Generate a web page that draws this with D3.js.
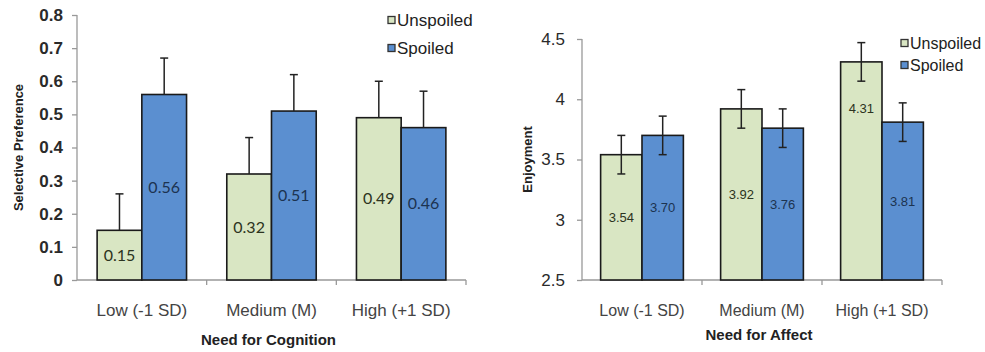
<!DOCTYPE html>
<html>
<head>
<meta charset="utf-8">
<script src="https://cdn.jsdelivr.net/npm/d3@7"></script>
<style>
  body { margin: 0; background: #fff; }
  svg { display: block; }
  text { font-family: "Liberation Sans", Arial, sans-serif; }
</style>
</head>
<body>
<svg id="chart" width="985" height="352"></svg>
<script>
// data
var groups = ['Low (-1 SD)', 'Medium (M)', 'High (+1 SD)'];
var seriesNames = ['Unspoiled', 'Spoiled'];

var cognitionUnspoiled = [0.15, 0.32, 0.49];
var cognitionSpoiled = [0.56, 0.51, 0.46];
var cognitionErrUnspoiled = [0.11, 0.11, 0.11];
var cognitionErrSpoiled = [0.11, 0.11, 0.11];
var cognitionTicks = [0, 0.1, 0.2, 0.3, 0.4, 0.5, 0.6, 0.7, 0.8];

var affectUnspoiled = [3.54, 3.92, 4.31];
var affectSpoiled = [3.70, 3.76, 3.81];
var affectErrUnspoiled = [0.16, 0.16, 0.16];
var affectErrSpoiled = [0.16, 0.16, 0.16];
var affectTicks = [2.5, 3, 3.5, 4, 4.5];

var colors = { Unspoiled: '#d9e6c3', Spoiled: '#5b8fd0' };

var svg = d3.select('#chart');

function buildRows(unsp, sp, errU, errS) {
  var rows = [];
  groups.forEach(function(g, i) {
    rows.push({ group: g, series: 'Unspoiled', value: unsp[i], err: errU[i] });
    rows.push({ group: g, series: 'Spoiled', value: sp[i], err: errS[i] });
  });
  return rows;
}

function drawChart(opts) {
  var g = svg.append('g');
  var x0 = d3.scaleBand().domain(groups)
    .range([opts.left, opts.right]).paddingInner(0).paddingOuter(0);
  var x1 = d3.scaleBand().domain(seriesNames)
    .range([0, x0.bandwidth()]).paddingOuter(opts.barPad);
  var y = d3.scaleLinear().domain(opts.domain).range([opts.bottom, opts.top]);

  // y axis
  var yAxis = g.append('g')
    .attr('transform', 'translate(' + opts.left + ',0)')
    .call(d3.axisLeft(y).tickValues(opts.ticks).tickSize(5).tickPadding(opts.tickPad)
      .tickFormat(opts.fmt));
  yAxis.select('.domain').attr('stroke', '#999').attr('stroke-width', 1.3)
    .attr('d', 'M0,' + opts.top + 'V' + opts.bottom);
  yAxis.selectAll('.tick line').attr('stroke', '#999').attr('stroke-width', 1.3);
  yAxis.selectAll('.tick text')
    .style('font-size', '17px')
    .style('font-weight', opts.tickBold ? 'bold' : 'normal')
    .attr('fill', '#2a2a2a');

  // x axis
  var xAxis = g.append('g')
    .attr('transform', 'translate(0,' + opts.bottom + ')')
    .call(d3.axisBottom(x0).tickSize(0).tickPadding(opts.catPad));
  xAxis.select('.domain').attr('stroke', '#999').attr('stroke-width', 1.3)
    .attr('d', 'M' + opts.left + ',0H' + opts.right);
  xAxis.selectAll('.tick text').style('font-size', opts.catSize).attr('fill', '#444');
  // separators between groups
  g.selectAll('.sep')
    .data(groups.slice(1).concat(['end']))
    .enter().append('line')
    .attr('x1', function(d) { return d === 'end' ? opts.right : x0(d); })
    .attr('x2', function(d) { return d === 'end' ? opts.right : x0(d); })
    .attr('y1', opts.bottom).attr('y2', opts.bottom + 5)
    .attr('stroke', '#999').attr('stroke-width', 1.3);

  var rows = buildRows(opts.unsp, opts.sp, opts.errU, opts.errS);

  var bars = g.append('g').selectAll('g.bar')
    .data(rows).enter().append('g').attr('class', 'bar')
    .attr('transform', function(d) { return 'translate(' + (x0(d.group) + x1(d.series)) + ',0)'; });

  bars.append('rect')
    .attr('x', 0)
    .attr('y', function(d) { return y(d.value); })
    .attr('width', x1.bandwidth())
    .attr('height', function(d) { return opts.bottom - y(d.value); })
    .attr('fill', function(d) { return colors[d.series]; })
    .attr('stroke', '#1a1a1a')
    .attr('stroke-width', 1.6);

  // error bars
  var cx = x1.bandwidth() / 2;
  bars.append('line')
    .attr('x1', cx).attr('x2', cx)
    .attr('y1', function(d) { return y(opts.bothSides ? d.value - d.err : d.value); })
    .attr('y2', function(d) { return y(d.value + d.err); })
    .attr('stroke', '#222').attr('stroke-width', 1.5);
  bars.append('line')
    .attr('x1', cx - 4).attr('x2', cx + 4)
    .attr('y1', function(d) { return y(d.value + d.err); })
    .attr('y2', function(d) { return y(d.value + d.err); })
    .attr('stroke', '#222').attr('stroke-width', 1.5);
  if (opts.bothSides) {
    bars.append('line')
      .attr('x1', cx - 4).attr('x2', cx + 4)
      .attr('y1', function(d) { return y(d.value - d.err); })
      .attr('y2', function(d) { return y(d.value - d.err); })
      .attr('stroke', '#222').attr('stroke-width', 1.5);
  }

  // value labels
  bars.append('text')
    .attr('x', cx)
    .attr('y', function(d) { return opts.labelY(d, y); })
    .attr('dy', '0.35em')
    .attr('text-anchor', 'middle')
    .style('font-family', opts.labelFont)
    .style('font-size', opts.labelSize)
    .attr('fill', function(d) { return d.series === 'Spoiled' ? '#1c3350' : '#2c3320'; })
    .text(function(d) { return opts.labelFmt(d.value); });

  // axis titles
  g.append('text')
    .attr('transform', 'translate(' + opts.yTitleX + ',' + ((opts.top + opts.bottom) / 2) + ') rotate(-90)')
    .attr('text-anchor', 'middle').attr('dy', '0.35em')
    .style('font-size', '13px').style('font-weight', 'bold').attr('fill', '#222')
    .text(opts.yTitle);
  g.append('text')
    .attr('x', (opts.left + opts.right) / 2 - 3)
    .attr('y', opts.xTitleY)
    .attr('text-anchor', 'middle').attr('dy', '0.35em')
    .style('font-size', '15px').style('font-weight', 'bold').attr('fill', '#222')
    .text(opts.xTitle);

  // legend
  var leg = g.append('g').selectAll('g')
    .data(seriesNames).enter().append('g')
    .attr('transform', function(d, i) { return 'translate(' + opts.legX + ',' + (opts.legY + i * opts.legStep) + ')'; });
  leg.append('rect')
    .attr('x', 0).attr('y', -3.5).attr('width', 7).attr('height', 7)
    .attr('fill', function(d) { return colors[d]; })
    .attr('stroke', '#333').attr('stroke-width', 1.3);
  leg.append('text')
    .attr('x', 9).attr('dy', '0.35em')
    .style('font-size', opts.legSize).attr('fill', '#222')
    .text(function(d) { return d; });
}

drawChart({
  left: 77, right: 466, top: 15, bottom: 280,
  domain: [0, 0.8], ticks: cognitionTicks, barPad: 0.45, tickPad: 9,
  fmt: function(d) { return d === 0 ? '0' : d3.format('.1f')(d); },
  tickBold: true, catPad: 24, catSize: '17px',
  unsp: cognitionUnspoiled, sp: cognitionSpoiled,
  errU: cognitionErrUnspoiled, errS: cognitionErrSpoiled,
  bothSides: false,
  labelY: function(d, y) { return (y(d.value) + y(0)) / 2; },
  labelFont: 'Lato, "Open Sans", sans-serif', labelSize: '16px',
  labelFmt: d3.format('.2f'),
  yTitle: 'Selective Preference', yTitleX: 18,
  xTitle: 'Need for Cognition', xTitleY: 340,
  legX: 388, legY: 20, legStep: 28, legSize: '17px'
});

drawChart({
  left: 582, right: 942, top: 39, bottom: 280,
  domain: [2.5, 4.5], ticks: affectTicks, barPad: 0.45, tickPad: 12,
  fmt: function(d) { return String(d); },
  tickBold: false, catPad: 25, catSize: '16px',
  unsp: affectUnspoiled, sp: affectSpoiled,
  errU: affectErrUnspoiled, errS: affectErrSpoiled,
  bothSides: true,
  labelY: function(d, y) {
    // tallest bar carries its label near the top
    return d.value > 4.2 ? y(d.value) + 47 : (y(d.value) + y(2.5)) / 2;
  },
  labelFont: '"Liberation Sans", Arial, sans-serif', labelSize: '13px',
  labelFmt: d3.format('.2f'),
  yTitle: 'Enjoyment', yTitleX: 527,
  xTitle: 'Need for Affect', xTitleY: 335,
  legX: 901, legY: 43, legStep: 22, legSize: '16px'
});
</script>
</body>
</html>
